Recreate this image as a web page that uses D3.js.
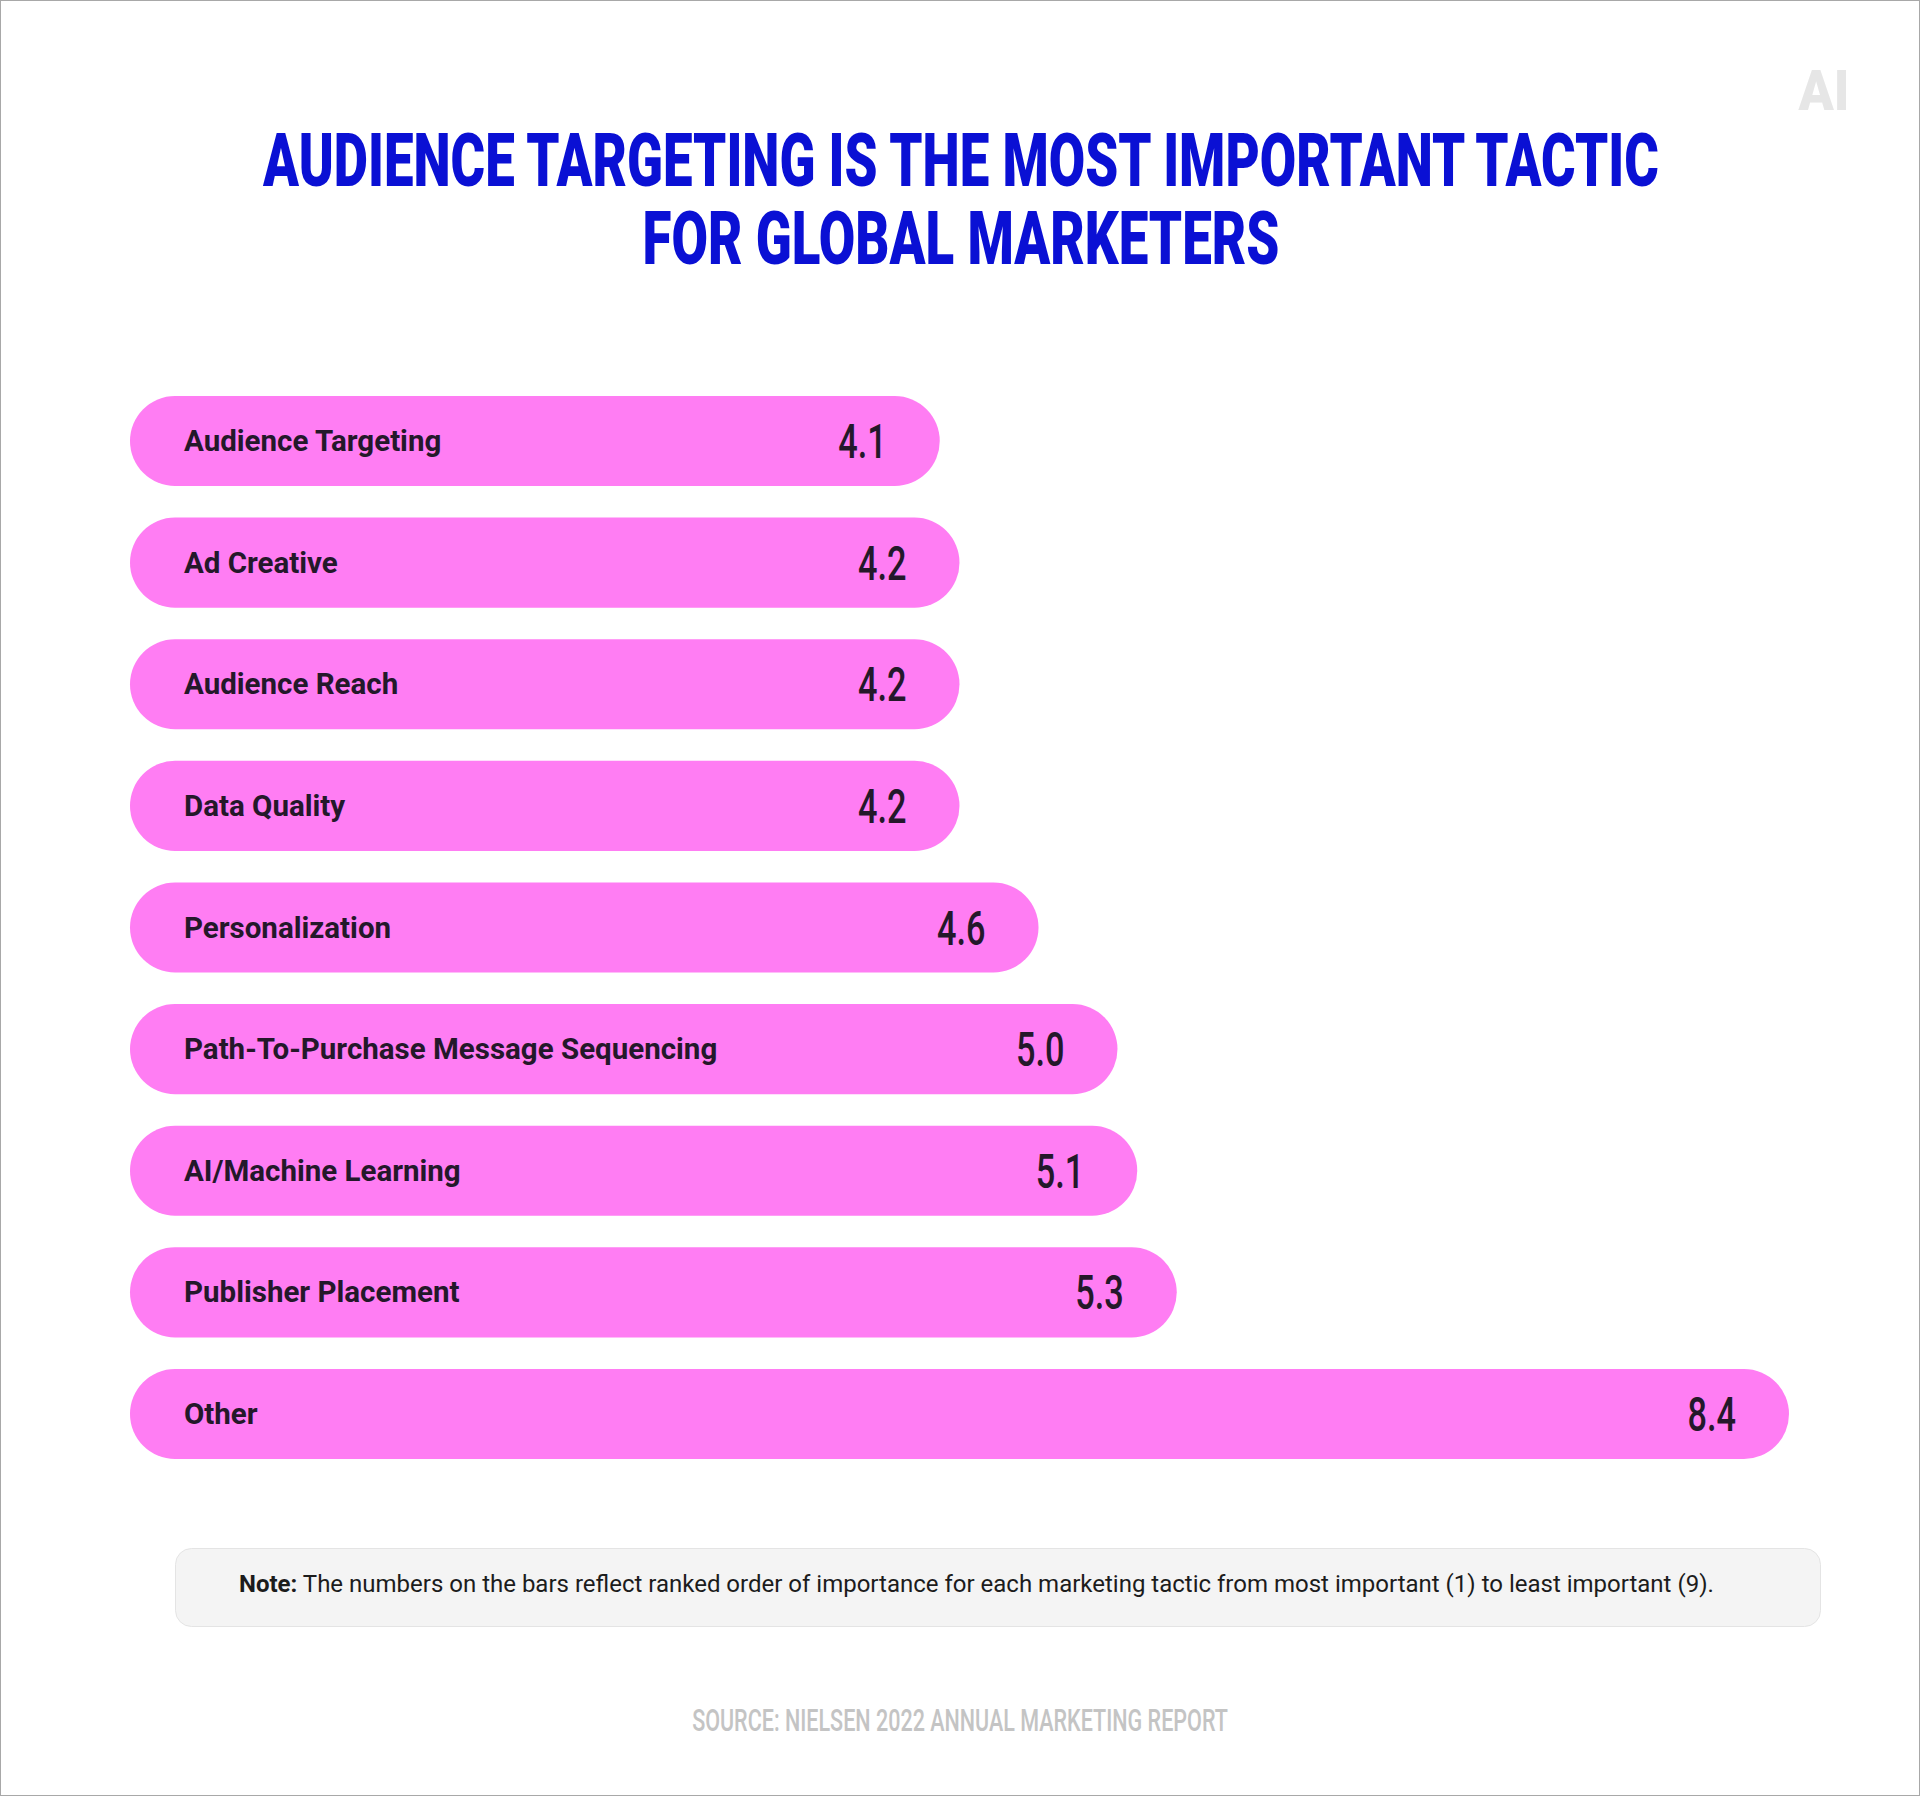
<!DOCTYPE html>
<html>
<head>
<meta charset="utf-8">
<script src="https://cdn.jsdelivr.net/npm/d3@7"></script>
<style>
  html, body { margin: 0; padding: 0; background: #fff; }
  svg { display: block; }
</style>
</head>
<body>
<script>
const categories = ["Audience Targeting", "Ad Creative", "Audience Reach", "Data Quality", "Personalization",
  "Path-To-Purchase Message Sequencing", "AI/Machine Learning", "Publisher Placement", "Other"];
const values = [4.1, 4.2, 4.2, 4.2, 4.6, 5.0, 5.1, 5.3, 8.4];
const titleLines = ["AUDIENCE TARGETING IS THE MOST IMPORTANT TACTIC", "FOR GLOBAL MARKETERS"];
const noteLabel = "Note:";
const noteText = " The numbers on the bars reflect ranked order of importance for each marketing tactic from most important (1) to least important (9).";
const sourceText = "SOURCE: NIELSEN 2022 ANNUAL MARKETING REPORT";

const W = 1920, H = 1796;
const svg = d3.select("body").append("svg").attr("width", W).attr("height", H);

svg.append("rect").attr("x", 0.5).attr("y", 0.5).attr("width", W - 1).attr("height", H - 1)
  .attr("fill", "#fff").attr("stroke", "#a8a8a8").attr("stroke-width", 1);

// helper: squeeze a text horizontally to a target width, centred at cx
function fitText(sel, cx, by, target) {
  const len = sel.node().getComputedTextLength();
  const sx = target / len;
  sel.attr("text-anchor", "middle").attr("x", 0).attr("y", 0)
    .attr("transform", `translate(${cx},${by}) scale(${sx},1)`);
}

// logo
const logo = svg.append("text")
  .attr("font-family", "Roboto").attr("font-weight", 900).attr("font-size", 56)
  .attr("fill", "#e6e6e6").text("AI");
fitText(logo, 1824, 110, 51);

// title
const titleW = [1396, 637];
const titleY = [186, 264];
titleLines.forEach((t, i) => {
  const tt = svg.append("text")
    .attr("font-family", "Roboto").attr("font-weight", 900).attr("font-size", 74)
    .attr("fill", "#0a10d4").text(t);
  fitText(tt, 961, titleY[i], titleW[i]);
});

// scales
const x = d3.scaleLinear().domain([0, 8.4]).range([130, 1789]);
const y = d3.scaleBand().domain(categories).range([396, 1459]).paddingInner(0.26).paddingOuter(0);
const bw = y.bandwidth();

const data = categories.map((c, i) => ({ c, v: values[i] }));
const g = svg.append("g");
const rows = g.selectAll("g.row").data(data).join("g").attr("class", "row");

rows.append("rect")
  .attr("x", x(0)).attr("y", d => y(d.c))
  .attr("width", d => x(d.v) - x(0)).attr("height", bw)
  .attr("rx", bw / 2).attr("ry", bw / 2)
  .attr("fill", "#ff7df3");

rows.append("text")
  .attr("x", x(0) + 54).attr("y", d => y(d.c) + bw / 2 + 10)
  .attr("font-family", "Roboto").attr("font-weight", 700).attr("font-size", 29.5)
  .attr("fill", "#24182a")
  .text(d => d.c);

rows.append("text")
  .attr("transform", d => `translate(${x(d.v) - 53},${y(d.c) + bw / 2 + 17}) scale(0.7,1)`)
  .attr("text-anchor", "end")
  .attr("font-family", "Roboto").attr("font-weight", 500).attr("font-size", 49)
  .attr("fill", "#24182a")
  .text(d => d.v.toFixed(1));

// note box
svg.append("rect").attr("x", 175.5).attr("y", 1548.5).attr("width", 1645).attr("height", 78)
  .attr("rx", 16).attr("fill", "#f4f4f4").attr("stroke", "#e4e4e4");
const nt = svg.append("text").attr("x", 239).attr("y", 1592)
  .attr("font-family", "Roboto").attr("font-size", 24).attr("fill", "#1c1c1c");
nt.append("tspan").attr("font-weight", 700).text(noteLabel);
nt.append("tspan").attr("font-weight", 400).text(noteText);

// source
const src = svg.append("text")
  .attr("font-family", "Roboto").attr("font-weight", 500).attr("font-size", 32)
  .attr("fill", "#c4c4c4").text(sourceText);
fitText(src, 960, 1731, 536);
</script>
</body>
</html>
